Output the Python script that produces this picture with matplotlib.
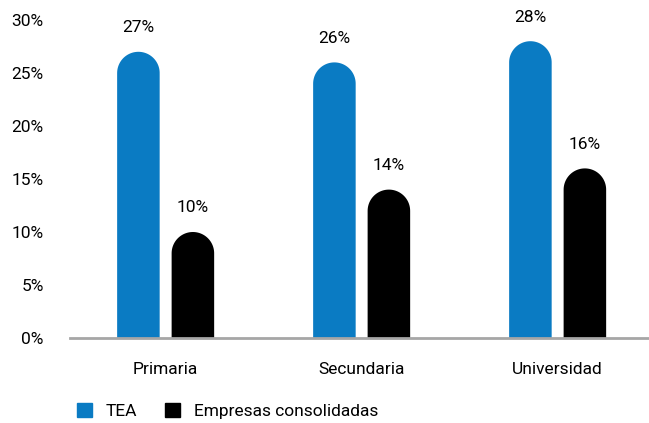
import numpy as np
import matplotlib.pyplot as plt
from matplotlib.patches import Polygon, Patch

plt.rcParams['font.family'] = ['Roboto', 'DejaVu Sans']

categories = ['Primaria', 'Secundaria', 'Universidad']
tea = [27, 26, 28]
consolidadas = [10, 14, 16]
series_names = ['TEA', 'Empresas consolidadas']
colors = ['#0A7BC3', '#000000']

W, H = 649, 423
fig = plt.figure(figsize=(W / 100, H / 100), dpi=100)
ax = fig.add_axes([70 / W, (H - 338) / H, (648 - 70) / W, 318 / H])

ymax = 30
ax.set_ylim(0, ymax)
ax.set_xlim(-0.487, 2.462)

bw = 0.217
offsets = [-0.138, 0.140]
# rounded top: semicircle in pixels -> half ellipse in data units
r_px = bw * 196 / 2
ry = r_px * ymax / 318
theta = np.linspace(0, np.pi, 60)


def rounded_bar(xc, v, col):
    top = v - ry
    xs = np.concatenate([[xc + bw / 2], xc + bw / 2 * np.cos(theta), [xc - bw / 2]])
    ys = np.concatenate([[0], top + ry * np.sin(theta), [0]])
    ax.add_patch(Polygon(np.column_stack([xs, ys]), closed=True, facecolor=col,
                         edgecolor='none'))


x = np.arange(len(categories))
for vals, off, col in zip([tea, consolidadas], offsets, colors):
    for xi, v in zip(x, vals):
        rounded_bar(xi + off, v, col)
        ax.annotate(f'{v}%', (xi + off, v), xytext=(0, 12), textcoords='offset points',
                    ha='center', va='bottom', fontsize=12.5)

ax.set_yticks(range(0, 31, 5))
ax.set_yticklabels([f'{t}%' for t in range(0, 31, 5)], fontsize=12.5)
ax.set_xticks(x)
ax.set_xticklabels(categories, fontsize=12.5)
ax.tick_params(axis='y', length=0, pad=19)
ax.tick_params(axis='x', length=0, pad=17)

for s in ['top', 'right', 'left']:
    ax.spines[s].set_visible(False)
ax.spines['bottom'].set_color('#A6A6A6')
ax.spines['bottom'].set_linewidth(2)
ax.spines['bottom'].set_zorder(3)

handles = [Patch(color=c) for c in colors]
fig.legend(handles, series_names, loc='center left', bbox_to_anchor=(70 / W, 1 - 411 / H),
           ncol=2, frameon=False, fontsize=12.5, handlelength=0.85, handleheight=0.85,
           handletextpad=0.8, columnspacing=1.6, borderaxespad=0)

fig.savefig('out.png', dpi=100)
